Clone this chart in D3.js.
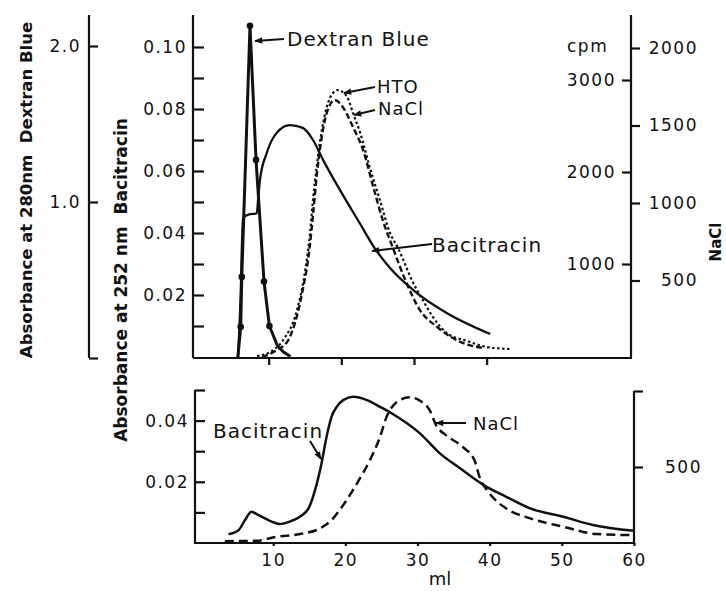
<!DOCTYPE html>
<html>
<head>
<meta charset="utf-8">
<script src="https://cdn.jsdelivr.net/npm/d3@7"></script>
<style>
  body { margin: 0; background: #fff; }
  svg text { font-family: "DejaVu Sans", sans-serif; fill: #111; }
  .tick text { font-size: 17px; letter-spacing: 1.5px; }
  .tick line, .axisline { stroke: #111; stroke-width: 2.2; }
  .lbl { font-size: 20px; letter-spacing: 1px; }
</style>
</head>
<body>
<svg id="chart" width="726" height="591"></svg>
<script>
// ---------- upper panel data ----------
// Dextran Blue, absorbance at 280 nm (dots = measured fractions)
var dexMl   = [5.75, 6.15, 6.3, 7.43, 8.26, 9.36, 10.1, 11.2, 12.0, 13.0];
var dexAbs  = [0, 0.20, 0.52, 2.13, 1.27, 0.49, 0.205, 0.08, 0.04, 0.01];
var dexDot  = [0, 1, 1, 1, 1, 1, 1, 0, 0, 0];

// Bacitracin, absorbance at 252 nm
var bacMl  = [5.78, 6.12, 6.47, 7.3, 8.35, 8.6, 8.8, 9.73, 11.1, 12.9, 14.7, 16.1, 17.5, 19.8, 22.6, 24.4, 26.7, 29.9, 34.5, 40.5];
var bacAbs = [0, 0.018, 0.0448, 0.046, 0.0463, 0.0523, 0.0571, 0.0658, 0.0723, 0.0748, 0.0739, 0.070, 0.0635, 0.0539, 0.0429, 0.0358, 0.0287, 0.0216, 0.0142, 0.0074];

// HTO, cpm
var htoMl  = [8.4, 10.2, 12.0, 13.9, 15.1, 15.7, 16.1, 16.6, 17.1, 18.0, 18.85, 19.5, 20.8, 21.6, 22.6, 23.9, 25.3, 26.7, 27.8, 29.9, 31.2, 32.6, 34.5, 37.3, 40.0, 43.2];
var htoCpm = [0, 43, 174, 500, 967, 1337, 1696, 2054, 2348, 2707, 2859, 2891, 2815, 2641, 2424, 2054, 1696, 1337, 1174, 793, 609, 424, 250, 163, 98, 76];

// NaCl (upper)
var naMl  = [9.1, 10.9, 12.7, 14.6, 15.6, 16.1, 16.65, 17.1, 18.0, 19.1, 20.2, 21.6, 23.0, 24.4, 25.7, 27.1, 28.8, 30.8, 33.2, 36.7, 39.5];
var naVal = [6, 45, 116, 419, 697, 923, 1194, 1361, 1581, 1665, 1619, 1490, 1342, 1103, 890, 710, 503, 310, 200, 97, 65];

// ---------- lower panel data ----------
var bac2Ml  = [3.8, 5.2, 6.1, 7.0, 7.9, 8.6, 9.8, 10.9, 12.3, 13.7, 14.9, 15.8, 16.7, 17.4, 18.1, 18.8, 19.7, 21.1, 23.0, 24.8, 26.4, 30.3, 33.1, 35.9, 39.1, 42.3, 45.6, 50.2, 54.3, 60];
var bac2Abs = [0.0029, 0.0042, 0.0075, 0.0102, 0.0092, 0.0084, 0.007, 0.0062, 0.007, 0.0086, 0.0113, 0.0173, 0.026, 0.0347, 0.0413, 0.0445, 0.0467, 0.0478, 0.0467, 0.0445, 0.0424, 0.0359, 0.0293, 0.0244, 0.019, 0.0151, 0.0113, 0.0086, 0.0059, 0.0040];

var na2Ml  = [3.3, 7.7, 10.5, 13.7, 16.5, 18.1, 19.7, 21.6, 23.4, 24.8, 25.7, 27.1, 28.9, 30.3, 31.7, 32.6, 34.0, 36.3, 37.9, 38.6, 40.0, 42.3, 45.6, 50.2, 54.8, 60];
var na2Val = [12, 15, 41, 59, 96, 151, 249, 391, 544, 697, 828, 926, 959, 937, 872, 773, 708, 631, 544, 434, 326, 227, 162, 107, 59, 52];

// ---------- ticks ----------
var bacTicks   = [0.01, 0.02, 0.03, 0.04, 0.05, 0.06, 0.07, 0.08, 0.09, 0.10];
var dexTicks   = [0, 1, 2];
var cpmTicks   = [1000, 2000, 3000];
var naTicks    = [500, 1000, 1500, 2000];
var topMlTicks = [10, 20, 30, 40];
var mlTicks    = [10, 20, 30, 40, 50, 60];
var bac2Ticks  = [0.01, 0.02, 0.03, 0.04, 0.05];
var na2Ticks   = [500, 1000];

var svg = d3.select('#chart');

var defs = svg.append('defs');
defs.append('marker').attr('id', 'ah')
    .attr('viewBox', '0 0 10 10').attr('refX', 9).attr('refY', 5)
    .attr('markerWidth', 9).attr('markerHeight', 8)
    .attr('markerUnits', 'userSpaceOnUse').attr('orient', 'auto')
  .append('path').attr('d', 'M0,1L10,5L0,9Z').attr('fill', '#111');

// scales
var xTop  = d3.scaleLinear().domain([0, 60]).range([196, 632]);
var xBot  = d3.scaleLinear().domain([0, 60]).range([201, 634]);
var yBac  = d3.scaleLinear().domain([0, 0.1]).range([357, 47]);
var yDex  = d3.scaleLinear().domain([0, 2]).range([358, 46]);
var yCpm  = d3.scaleLinear().domain([0, 3000]).range([356, 80]);
var yNa   = d3.scaleLinear().domain([0, 2000]).range([358, 48]);
var yBac2 = d3.scaleLinear().domain([0, 0.05]).range([543, 390]);
var yNa2  = d3.scaleLinear().domain([0, 1000]).range([543, 391]);

function vline(x, y1, y2) {
  svg.append('line').attr('class', 'axisline')
     .attr('x1', x).attr('x2', x).attr('y1', y1).attr('y2', y2);
}
function hline(y, x1, x2) {
  svg.append('line').attr('class', 'axisline')
     .attr('x1', x1).attr('x2', x2).attr('y1', y).attr('y2', y);
}
function even2(d) { return Math.round(d * 100) % 2 === 0 ? d3.format('.2f')(d) : ''; }

// ---------- upper panel axes ----------
// Dextran Blue (outer left)
var gDex = svg.append('g').attr('transform', 'translate(89,0)')
  .call(d3.axisLeft(yDex).tickValues(dexTicks).tickSize(-9).tickPadding(8)
        .tickFormat(function(d){ return d ? d3.format('.1f')(d) : ''; }));
gDex.select('.domain').remove();
vline(89, 15, 358);

// Bacitracin (inner left)
var gBac = svg.append('g').attr('transform', 'translate(193,0)')
  .call(d3.axisLeft(yBac).tickValues(bacTicks).tickSize(-11).tickPadding(6).tickFormat(even2));
gBac.select('.domain').remove();
vline(193, 15, 358);

// bottom line with unlabeled ticks
hline(358, 193, 632);
svg.append('g').attr('transform', 'translate(0,358)')
  .call(d3.axisBottom(xTop).tickValues(topMlTicks).tickSize(7).tickFormat(''))
  .select('.domain').remove();

// right: cpm (left side ticks) and NaCl (right side ticks)
var gCpm = svg.append('g').attr('transform', 'translate(631,0)')
  .call(d3.axisLeft(yCpm).tickValues(cpmTicks).tickSize(9).tickPadding(6).tickFormat(d3.format('d')));
gCpm.select('.domain').remove();
var gNa = svg.append('g').attr('transform', 'translate(631,0)')
  .call(d3.axisRight(yNa).tickValues(naTicks).tickSize(9).tickFormat(d3.format('d')));
gNa.select('.domain').remove();
gNa.selectAll('.tick text').attr('text-anchor', 'end').attr('x', 67);
vline(631, 15, 358);

svg.append('text').attr('x', 567).attr('y', 52).style('font-size', '17px')
   .style('letter-spacing', '1.5px').text('cpm');

// ---------- lower panel axes ----------
var gBac2 = svg.append('g').attr('transform', 'translate(195,0)')
  .call(d3.axisLeft(yBac2).tickValues(bac2Ticks).tickSize(-10).tickPadding(6).tickFormat(even2));
gBac2.select('.domain').remove();
vline(195, 390, 544);

var gNa2 = svg.append('g').attr('transform', 'translate(634,0)')
  .call(d3.axisRight(yNa2).tickValues(na2Ticks).tickSize(9)
        .tickFormat(function(d){ return d === 500 ? '500' : ''; }));
gNa2.select('.domain').remove();
gNa2.selectAll('.tick text').attr('text-anchor', 'end').attr('x', 68);
vline(634, 391, 544);

hline(543, 195, 634);
var gX = svg.append('g').attr('transform', 'translate(0,543)')
  .call(d3.axisBottom(xBot).tickValues(mlTicks).tickSize(3).tickPadding(8));
gX.select('.domain').remove();

svg.append('text').attr('x', 440).attr('y', 585).attr('text-anchor', 'middle')
   .style('font-size', '18px').text('ml');

// ---------- axis titles ----------
svg.append('text').attr('transform', 'translate(32,190) rotate(-90)')
   .attr('text-anchor', 'middle').style('font-size', '16.5px').style('font-weight', 'bold')
   .text('Absorbance at 280nm\u00a0\u00a0Dextran Blue');

svg.append('text').attr('transform', 'translate(127,280) rotate(-90)')
   .attr('text-anchor', 'middle').style('font-size', '17px').style('font-weight', 'bold')
   .text('Absorbance at 252 nm\u00a0\u00a0Bacitracin');

svg.append('text').attr('transform', 'translate(721,242) rotate(-90)')
   .attr('text-anchor', 'middle').style('font-size', '15px').style('font-weight', 'bold')
   .text('NaCl');

// ---------- curves ----------
function pts(xs, ys) { return xs.map(function(v, i){ return [v, ys[i]]; }); }
function curve(data, xs, ys, w, dash, kind) {
  var line = d3.line().x(function(d){ return xs(d[0]); }).y(function(d){ return ys(d[1]); })
    .curve(kind || d3.curveMonotoneX);
  svg.append('path').datum(data).attr('d', line)
     .attr('fill', 'none').attr('stroke', '#111').attr('stroke-width', w)
     .attr('stroke-dasharray', dash || null).attr('stroke-linejoin', 'round');
}

curve(pts(naMl, naVal), xTop, yNa, 2.4, '6,3');
curve(pts(htoMl, htoCpm), xTop, yCpm, 2.2, '2.5,2.5');
curve(pts(bacMl, bacAbs), xTop, yBac, 2.3);
curve(pts(dexMl, dexAbs), xTop, yDex, 3, null, d3.curveLinear);
svg.selectAll('circle.dex').data(pts(dexMl, dexAbs).filter(function(d, i){ return dexDot[i]; }))
  .enter().append('circle').attr('class', 'dex')
  .attr('cx', function(d){ return xTop(d[0]); }).attr('cy', function(d){ return yDex(d[1]); })
  .attr('r', 3.3).attr('fill', '#111');

curve(pts(na2Ml, na2Val), xBot, yNa2, 2.5, '9,5');
curve(pts(bac2Ml, bac2Abs), xBot, yBac2, 2.5);

// ---------- annotations ----------
var notes = [
  { t: 'Dextran Blue', x: 287, y: 46,  size: 20, from: [284, 39],  to: [255, 41] },
  { t: 'HTO',          x: 377, y: 93,  size: 18, from: [375, 87],  to: [344, 93] },
  { t: 'NaCl',         x: 378, y: 115, size: 18, from: [375, 110], to: [354, 115] },
  { t: 'Bacitracin',   x: 432, y: 252, size: 20, from: [432, 244], to: [372, 251] },
  { t: 'Bacitracin',   x: 213, y: 438, size: 20, from: [310, 441], to: [321, 459] },
  { t: 'NaCl',         x: 473, y: 430, size: 18, from: [466, 423], to: [436, 423] }
];
notes.forEach(function(n) {
  svg.append('text').attr('class', 'lbl').attr('x', n.x).attr('y', n.y)
     .style('font-size', n.size + 'px').text(n.t);
  svg.append('line').attr('x1', n.from[0]).attr('y1', n.from[1])
     .attr('x2', n.to[0]).attr('y2', n.to[1])
     .attr('stroke', '#111').attr('stroke-width', 2).attr('marker-end', 'url(#ah)');
});
</script>
</body>
</html>
